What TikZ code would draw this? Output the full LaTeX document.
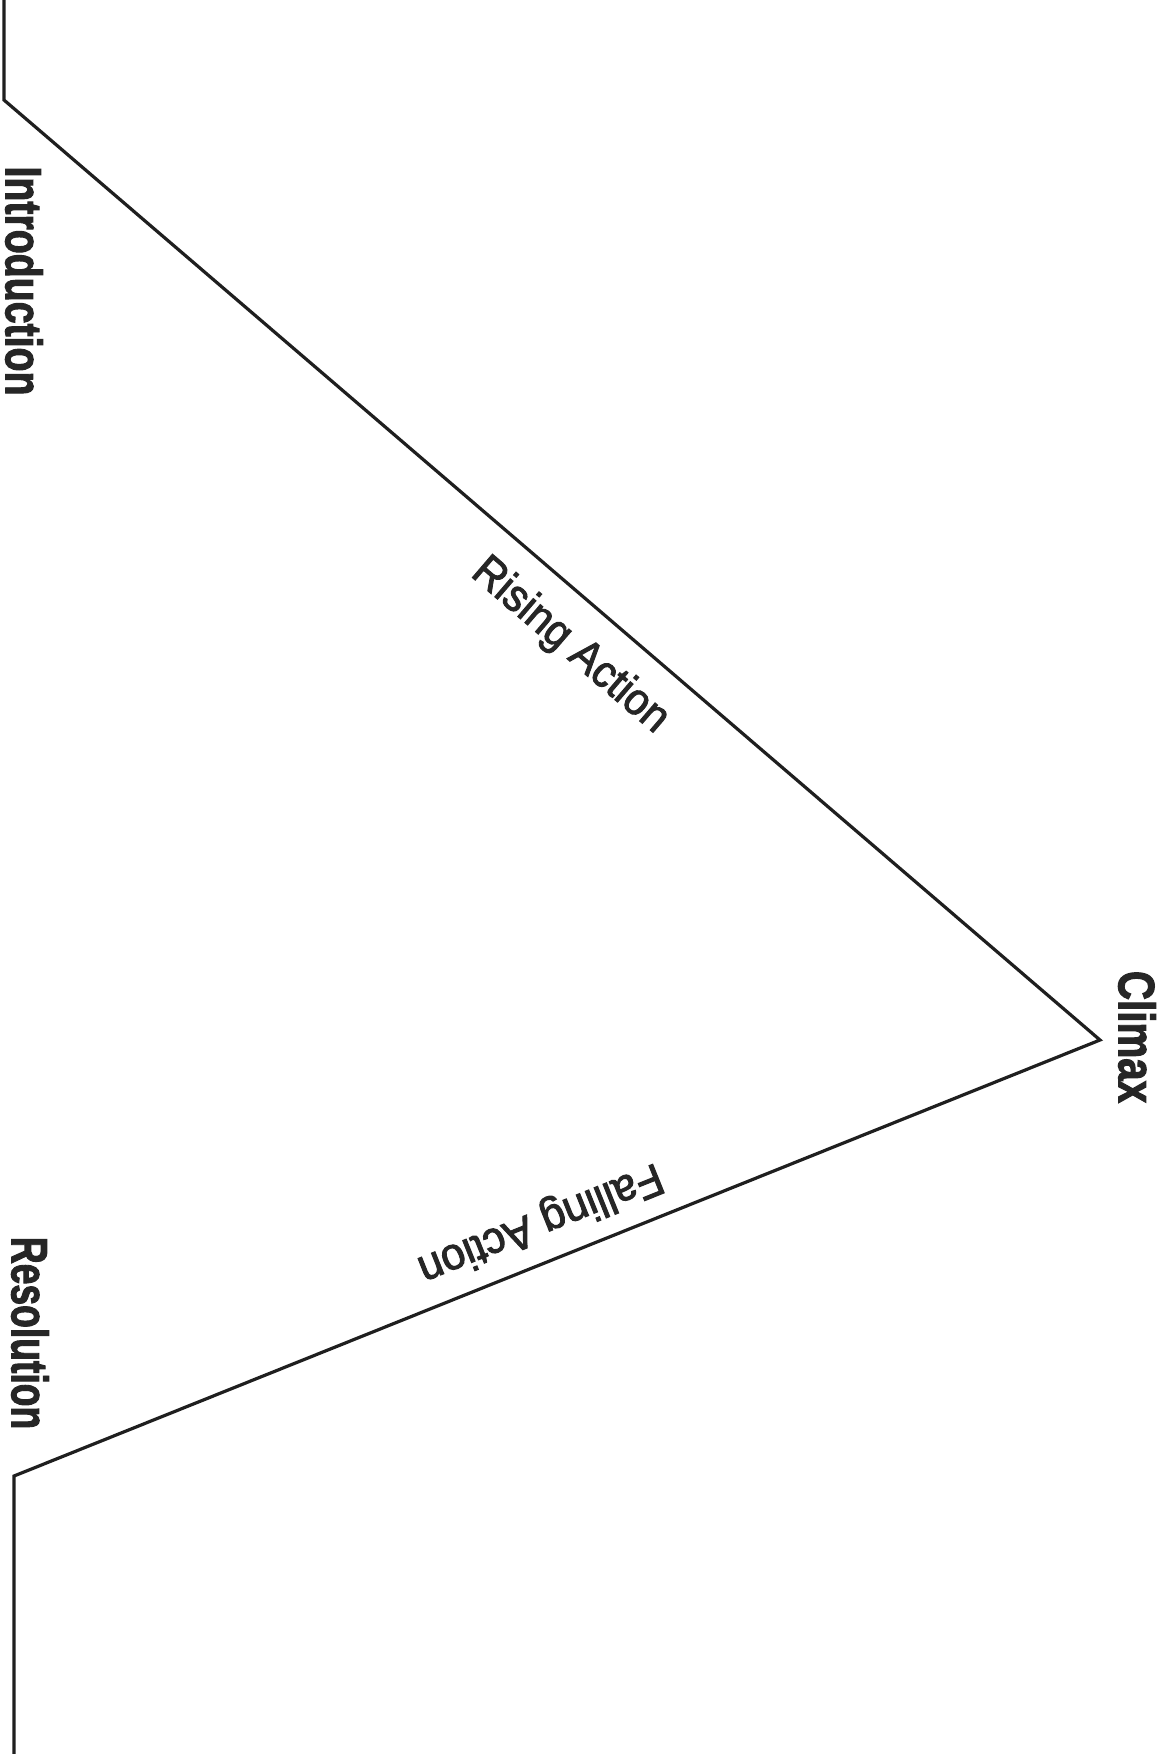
\documentclass[tikz,border=0pt]{standalone}
\usepackage{fontspec}
\setmainfont{Liberation Sans}
\newfontfamily\heavylbl[FakeBold=2.4]{Liberation Sans Bold}
\newfontfamily\mediumlbl[FakeBold=2.2]{Liberation Sans}
\usepackage{graphicx}
\begin{document}
\begin{tikzpicture}[x=1pt,y=1pt,
  plotline/.style={draw=black!88, line width=3.2pt, line join=miter},
  boldlabel/.style={font=\fontsize{51}{55}\heavylbl, text=black!85, inner sep=0pt},
  arclabel/.style={font=\fontsize{45}{50}\mediumlbl, text=black!85, inner sep=0pt}]
\useasboundingbox (0,0) rectangle (1172,-1754);
\fill[white] (0,0) rectangle (1172,-1754);
% points of the plot line
\coordinate (top) at (4,0);
\coordinate (intro) at (4,-100);
\coordinate (climax) at (1100,-1040);
\coordinate (resol) at (14,-1476);
\coordinate (bottom) at (14,-1754);
\draw[plotline] (top) -- (intro) -- (climax) -- (resol) -- (bottom);
% labels
\node[boldlabel, rotate=-90] (lintro) at (24,-281) {\scalebox{0.77}[1]{Introduction}};
\node[boldlabel, rotate=-90] (lclimax) at (1137,-1037) {\scalebox{0.79}[1]{Climax}};
\node[boldlabel, rotate=-90] (lresol) at (30,-1333) {\scalebox{0.73}[1]{Resolution}};
\node[arclabel, rotate=-40.6] (lrising) at (570,-646) {\scalebox{0.93}[1]{Rising Action}};
\node[arclabel, rotate=201.9] (lfalling) at (540,-1222) {\scalebox{0.96}[1]{Falling Action}};
\end{tikzpicture}
\end{document}
